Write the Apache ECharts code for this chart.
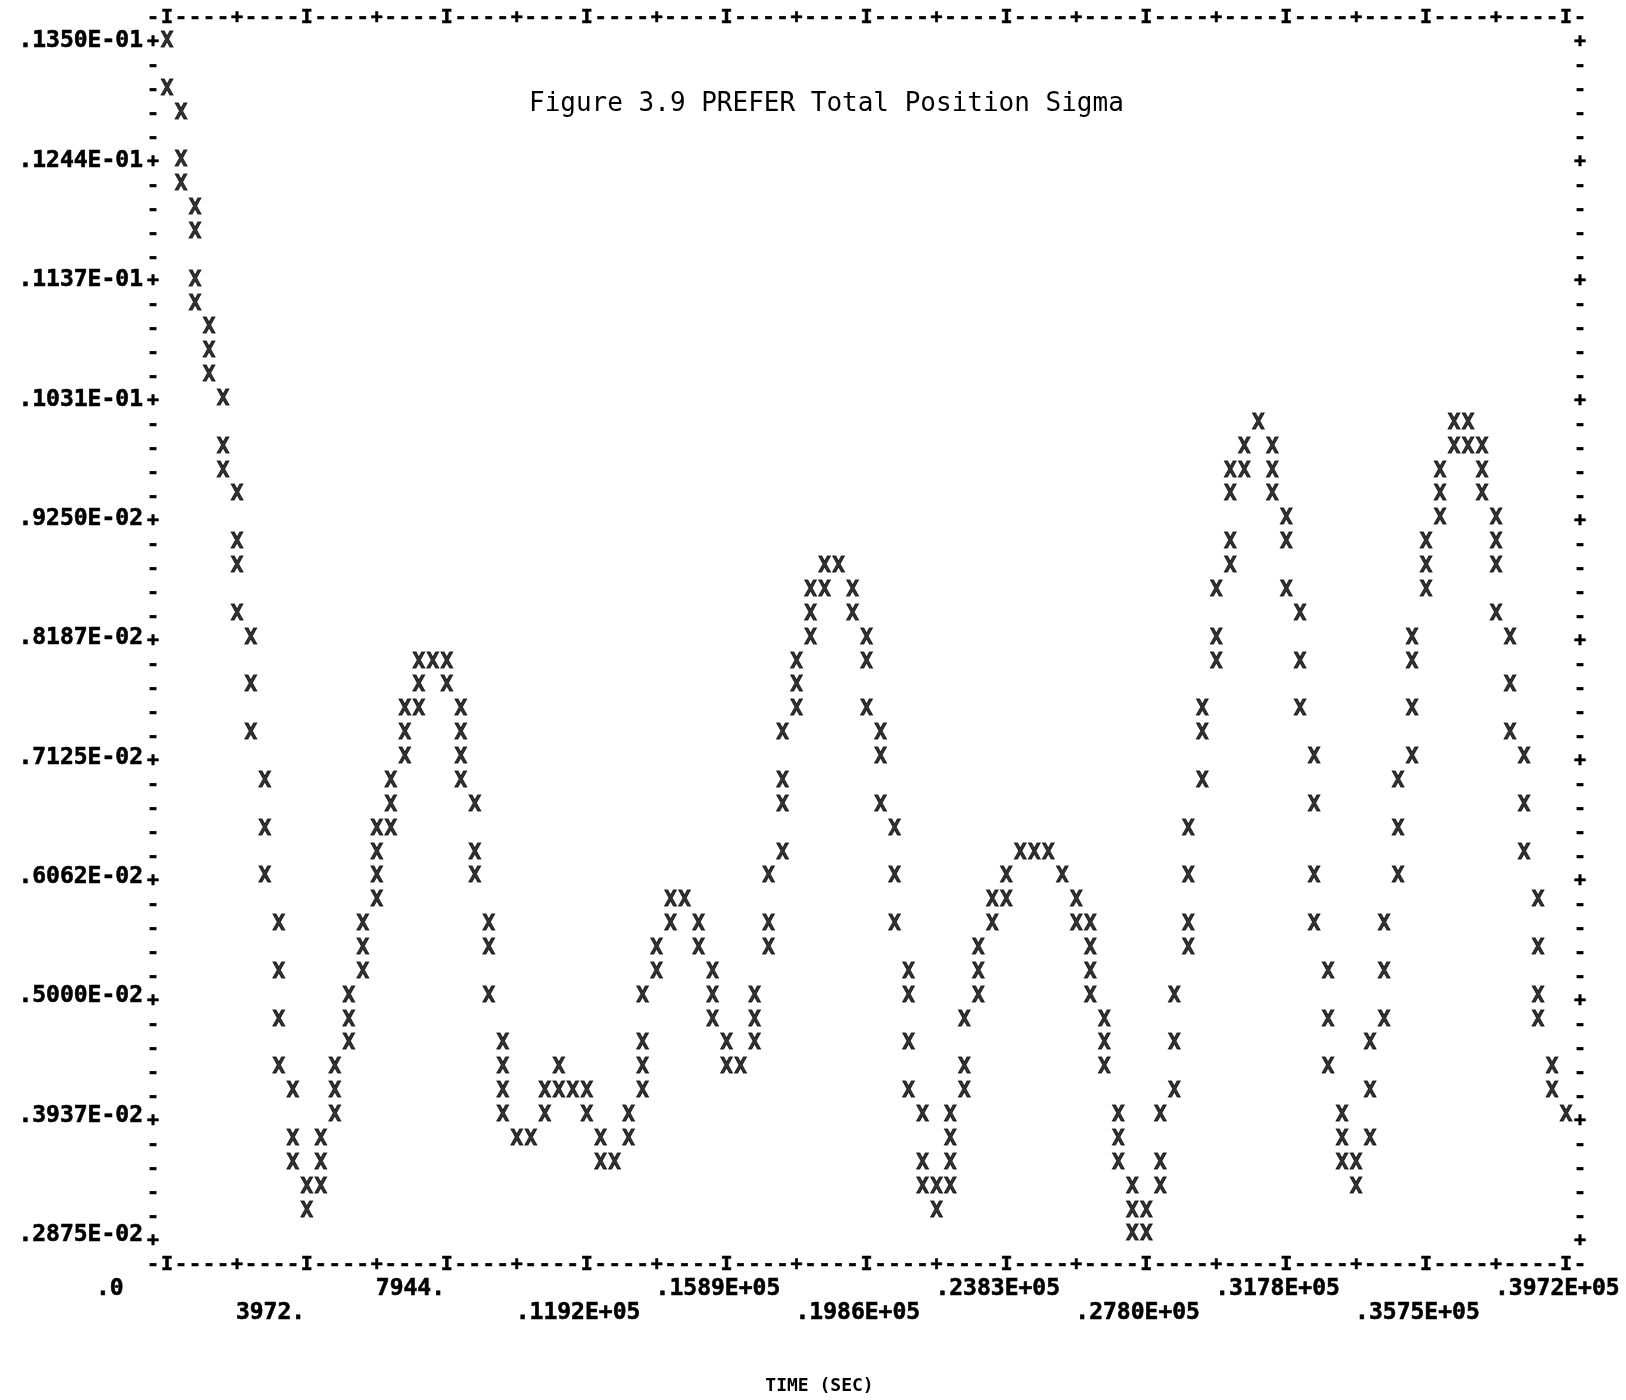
<!DOCTYPE html>
<html>
<head>
<meta charset="utf-8">
<title>Figure 3.9 PREFER Total Position Sigma</title>
<script src="https://cdn.jsdelivr.net/npm/echarts@6/dist/echarts.min.js"></script>
<style>
html, body { margin: 0; padding: 0; background: #fff; }
#chart { width: 1626px; height: 1400px; }
</style>
</head>
<body>
<div id="chart"></div>
<script>
// every printed X of the line-printer plot, read column by column
const timeSec = [
  0, 0,
  397.2, 397.2, 397.2,
  794.4, 794.4, 794.4, 794.4,
  1191.6, 1191.6, 1191.6,
  1588.8, 1588.8, 1588.8,
  1986, 1986, 1986, 1986,
  2383.2, 2383.2, 2383.2,
  2780.4, 2780.4, 2780.4,
  3177.6, 3177.6, 3177.6, 3177.6,
  3574.8, 3574.8, 3574.8,
  3972, 3972,
  4369.2, 4369.2, 4369.2,
  4766.4, 4766.4, 4766.4,
  5163.6, 5163.6, 5163.6,
  5560.8, 5560.8, 5560.8,
  5958, 5958, 5958, 5958,
  6355.2, 6355.2, 6355.2,
  6752.4, 6752.4, 6752.4,
  7149.6, 7149.6, 7149.6,
  7546.8,
  7944, 7944,
  8341.2, 8341.2, 8341.2, 8341.2,
  8738.4, 8738.4, 8738.4,
  9135.6, 9135.6, 9135.6,
  9532.8, 9532.8, 9532.8, 9532.8,
  9930,
  10327.2,
  10724.4, 10724.4,
  11121.6, 11121.6,
  11518.8,
  11916, 11916,
  12313.2, 12313.2,
  12710.4,
  13107.6, 13107.6,
  13504.8, 13504.8, 13504.8, 13504.8,
  13902, 13902,
  14299.2, 14299.2,
  14696.4,
  15093.6, 15093.6,
  15490.8, 15490.8, 15490.8,
  15888, 15888,
  16285.2,
  16682.4, 16682.4, 16682.4,
  17079.6, 17079.6, 17079.6,
  17476.8, 17476.8, 17476.8, 17476.8,
  17874, 17874, 17874,
  18271.2, 18271.2, 18271.2,
  18668.4, 18668.4,
  19065.6,
  19462.8, 19462.8,
  19860, 19860, 19860,
  20257.2, 20257.2, 20257.2,
  20654.4, 20654.4, 20654.4,
  21051.6, 21051.6, 21051.6, 21051.6,
  21448.8, 21448.8, 21448.8,
  21846, 21846,
  22243.2, 22243.2, 22243.2, 22243.2,
  22640.4, 22640.4, 22640.4,
  23037.6, 23037.6, 23037.6,
  23434.8, 23434.8,
  23832, 23832,
  24229.2,
  24626.4,
  25023.6,
  25420.8,
  25818, 25818,
  26215.2, 26215.2, 26215.2, 26215.2,
  26612.4, 26612.4, 26612.4,
  27009.6, 27009.6, 27009.6,
  27406.8, 27406.8, 27406.8,
  27804, 27804,
  28201.2, 28201.2, 28201.2,
  28598.4, 28598.4, 28598.4,
  28995.6, 28995.6, 28995.6, 28995.6,
  29392.8, 29392.8, 29392.8,
  29790, 29790, 29790,
  30187.2, 30187.2, 30187.2, 30187.2,
  30584.4, 30584.4,
  30981.6,
  31378.8, 31378.8, 31378.8,
  31776, 31776, 31776,
  32173.2, 32173.2, 32173.2,
  32570.4, 32570.4, 32570.4, 32570.4,
  32967.6, 32967.6, 32967.6,
  33364.8, 33364.8, 33364.8,
  33762, 33762,
  34159.2, 34159.2, 34159.2,
  34556.4, 34556.4, 34556.4,
  34953.6, 34953.6, 34953.6,
  35350.8, 35350.8, 35350.8, 35350.8,
  35748, 35748, 35748,
  36145.2, 36145.2, 36145.2,
  36542.4, 36542.4,
  36939.6, 36939.6,
  37336.8, 37336.8, 37336.8,
  37734, 37734, 37734, 37734,
  38131.2, 38131.2, 38131.2,
  38528.4, 38528.4, 38528.4,
  38925.6, 38925.6, 38925.6, 38925.6,
  39322.8, 39322.8,
  39720
];

const sigma = [
  0.0135, 0.013075,
  0.0128625, 0.0124375, 0.012225,
  0.0120125, 0.0118, 0.011375, 0.0111625,
  0.01095, 0.0107375, 0.010525,
  0.0103125, 0.0098875, 0.009675,
  0.0094625, 0.0090375, 0.008825, 0.0084,
  0.0081875, 0.0077625, 0.0073375,
  0.0069125, 0.0064875, 0.0060625,
  0.0056375, 0.0052125, 0.0047875, 0.0043625,
  0.00415, 0.003725, 0.0035125,
  0.0033, 0.0030875,
  0.003725, 0.0035125, 0.0033,
  0.0043625, 0.00415, 0.0039375,
  0.005, 0.0047875, 0.004575,
  0.0056375, 0.005425, 0.0052125,
  0.0064875, 0.006275, 0.0060625, 0.00585,
  0.0069125, 0.0067, 0.0064875,
  0.00755, 0.0073375, 0.007125,
  0.007975, 0.0077625, 0.00755,
  0.007975,
  0.007975, 0.0077625,
  0.00755, 0.0073375, 0.007125, 0.0069125,
  0.0067, 0.006275, 0.0060625,
  0.0056375, 0.005425, 0.005,
  0.004575, 0.0043625, 0.00415, 0.0039375,
  0.003725,
  0.003725,
  0.00415, 0.0039375,
  0.0043625, 0.00415,
  0.00415,
  0.00415, 0.0039375,
  0.003725, 0.0035125,
  0.0035125,
  0.0039375, 0.003725,
  0.005, 0.004575, 0.0043625, 0.00415,
  0.005425, 0.0052125,
  0.00585, 0.0056375,
  0.00585,
  0.0056375, 0.005425,
  0.0052125, 0.005, 0.0047875,
  0.004575, 0.0043625,
  0.0043625,
  0.005, 0.0047875, 0.004575,
  0.0060625, 0.0056375, 0.005425,
  0.0073375, 0.0069125, 0.0067, 0.006275,
  0.007975, 0.0077625, 0.00755,
  0.0086125, 0.0084, 0.0081875,
  0.008825, 0.0086125,
  0.008825,
  0.0086125, 0.0084,
  0.0081875, 0.007975, 0.00755,
  0.0073375, 0.007125, 0.0067,
  0.0064875, 0.0060625, 0.0056375,
  0.0052125, 0.005, 0.004575, 0.00415,
  0.0039375, 0.0035125, 0.0033,
  0.0033, 0.0030875,
  0.0039375, 0.003725, 0.0035125, 0.0033,
  0.0047875, 0.0043625, 0.00415,
  0.005425, 0.0052125, 0.005,
  0.00585, 0.0056375,
  0.0060625, 0.00585,
  0.006275,
  0.006275,
  0.006275,
  0.0060625,
  0.00585, 0.0056375,
  0.0056375, 0.005425, 0.0052125, 0.005,
  0.0047875, 0.004575, 0.0043625,
  0.0039375, 0.003725, 0.0035125,
  0.0033, 0.0030875, 0.002875,
  0.0030875, 0.002875,
  0.0039375, 0.0035125, 0.0033,
  0.005, 0.004575, 0.00415,
  0.0064875, 0.0060625, 0.0056375, 0.005425,
  0.00755, 0.0073375, 0.0069125,
  0.0086125, 0.0081875, 0.007975,
  0.009675, 0.0094625, 0.0090375, 0.008825,
  0.0098875, 0.009675,
  0.0101,
  0.0098875, 0.009675, 0.0094625,
  0.00925, 0.0090375, 0.0086125,
  0.0084, 0.007975, 0.00755,
  0.007125, 0.0067, 0.0060625, 0.0056375,
  0.0052125, 0.0047875, 0.0043625,
  0.0039375, 0.003725, 0.0035125,
  0.0035125, 0.0033,
  0.004575, 0.00415, 0.003725,
  0.0056375, 0.0052125, 0.0047875,
  0.0069125, 0.0064875, 0.0060625,
  0.0081875, 0.007975, 0.00755, 0.007125,
  0.0090375, 0.008825, 0.0086125,
  0.009675, 0.0094625, 0.00925,
  0.0101, 0.0098875,
  0.0101, 0.0098875,
  0.0098875, 0.009675, 0.0094625,
  0.00925, 0.0090375, 0.008825, 0.0084,
  0.0081875, 0.0077625, 0.0073375,
  0.007125, 0.0067, 0.006275,
  0.00585, 0.005425, 0.005, 0.0047875,
  0.0043625, 0.00415,
  0.0039375
];

const timeTickLabels = ['.0', '3972.', '7944.', '.1192E+05', '.1589E+05', '.1986E+05',
  '.2383E+05', '.2780E+05', '.3178E+05', '.3575E+05', '.3972E+05'];
// bottom to top
const sigmaTickLabels = ['.2875E-02', '.3937E-02', '.5000E-02', '.6062E-02', '.7125E-02', '.8187E-02',
  '.9250E-02', '.1031E-01', '.1137E-01', '.1244E-01', '.1350E-01'];

const tMin = 0, tMax = 39720, tStep = 3972;
const sMin = 0.002875, sMax = 0.0135, sStep = 0.0010625;

const FONT = "'DejaVu Sans Mono', 'Liberation Mono', monospace";

// printer frame characters: columns -1..101 across, rows -1..51 down
const frameRow = [];
for (let c = -1; c <= 101; c++) {
  frameRow.push(c < 0 || c > 100 ? '-' : c % 10 === 0 ? 'I' : c % 5 === 0 ? '+' : '-');
}
const frameSide = [];
for (let r = -1; r <= 51; r++) {
  frameSide.push(r < 0 || r > 50 ? '' : r % 5 === 0 ? '+' : '-');
}

const chart = echarts.init(document.getElementById('chart'));

const hidden = { axisLine: { show: false }, axisTick: { show: false }, splitLine: { show: false } };
const ink = { color: '#000', textBorderColor: '#000', textBorderWidth: 0.6 };
const frameLabel = {
  interval: 0, margin: 0, align: 'center', verticalAlign: 'middle',
  fontFamily: FONT, fontWeight: 'bold', fontSize: 20, ...ink
};
const timeRich = {
  t: { width: 142, align: 'left', fontFamily: FONT, fontWeight: 'bold', fontSize: 23, ...ink }
};

chart.setOption({
  animation: false,
  backgroundColor: '#fff',
  title: {
    text: 'Figure 3.9 PREFER Total Position Sigma',
    left: 529,
    top: 89,
    padding: 0,
    textStyle: { fontFamily: FONT, fontWeight: 'normal', fontSize: 26, lineHeight: 30, color: '#000' }
  },
  grid: [
    { left: 167, right: 60, top: 41.5, bottom: 159.5 },
    { left: 153, right: 46, top: 17.5, bottom: 135.5 }
  ],
  xAxis: [
    {
      type: 'value', gridIndex: 0, position: 'bottom',
      min: tMin, max: tMax, interval: tStep,
      ...hidden,
      axisLabel: {
        margin: 54, verticalAlign: 'middle', showMinLabel: true, showMaxLabel: true,
        formatter: v => {
          const i = Math.round(v / tStep);
          return i % 2 === 0 ? '{t|' + timeTickLabels[i] + '}' : '';
        },
        rich: timeRich
      },
      name: 'TIME (SEC)',
      nameLocation: 'middle',
      nameGap: 151,
      nameTextStyle: {
        fontFamily: FONT, fontWeight: 'bold', fontSize: 18, color: '#000',
        verticalAlign: 'middle', padding: [0, 94, 0, 0]
      }
    },
    {
      type: 'value', gridIndex: 0, position: 'bottom',
      min: tMin, max: tMax, interval: tStep,
      ...hidden,
      axisLabel: {
        margin: 78, verticalAlign: 'middle', showMinLabel: true, showMaxLabel: true,
        formatter: v => {
          const i = Math.round(v / tStep);
          return i % 2 === 1 ? '{t|' + timeTickLabels[i] + '}' : '';
        },
        rich: timeRich
      }
    },
    {
      type: 'category', gridIndex: 1, position: 'bottom', data: frameRow, boundaryGap: false,
      ...hidden, axisLabel: frameLabel
    },
    {
      type: 'category', gridIndex: 1, position: 'top', data: frameRow, boundaryGap: false,
      ...hidden, axisLabel: frameLabel
    }
  ],
  yAxis: [
    {
      type: 'value', gridIndex: 0, position: 'left',
      min: sMin, max: sMax, interval: sStep,
      ...hidden,
      axisLabel: {
        margin: 24, showMinLabel: true, showMaxLabel: true,
        fontFamily: FONT, fontWeight: 'bold', fontSize: 23, ...ink,
        formatter: v => sigmaTickLabels[Math.round((v - sMin) / sStep)]
      }
    },
    {
      type: 'category', gridIndex: 1, position: 'left', inverse: true, data: frameSide, boundaryGap: false,
      ...hidden, axisLabel: frameLabel
    },
    {
      type: 'category', gridIndex: 1, position: 'right', inverse: true, data: frameSide, boundaryGap: false,
      ...hidden, axisLabel: frameLabel
    }
  ],
  series: [{
    type: 'scatter',
    xAxisIndex: 0,
    yAxisIndex: 0,
    data: timeSec.map((t, i) => [t, sigma[i]]),
    symbolSize: 1,
    itemStyle: { color: 'rgba(0,0,0,0)' },
    label: {
      show: true, position: 'inside', formatter: 'X',
      fontFamily: FONT, fontWeight: 'bold', fontSize: 21,
      color: '#000', textBorderColor: '#000', textBorderWidth: 0.9
    },
    emphasis: { disabled: true },
    silent: true
  }]
});
</script>
</body>
</html>
